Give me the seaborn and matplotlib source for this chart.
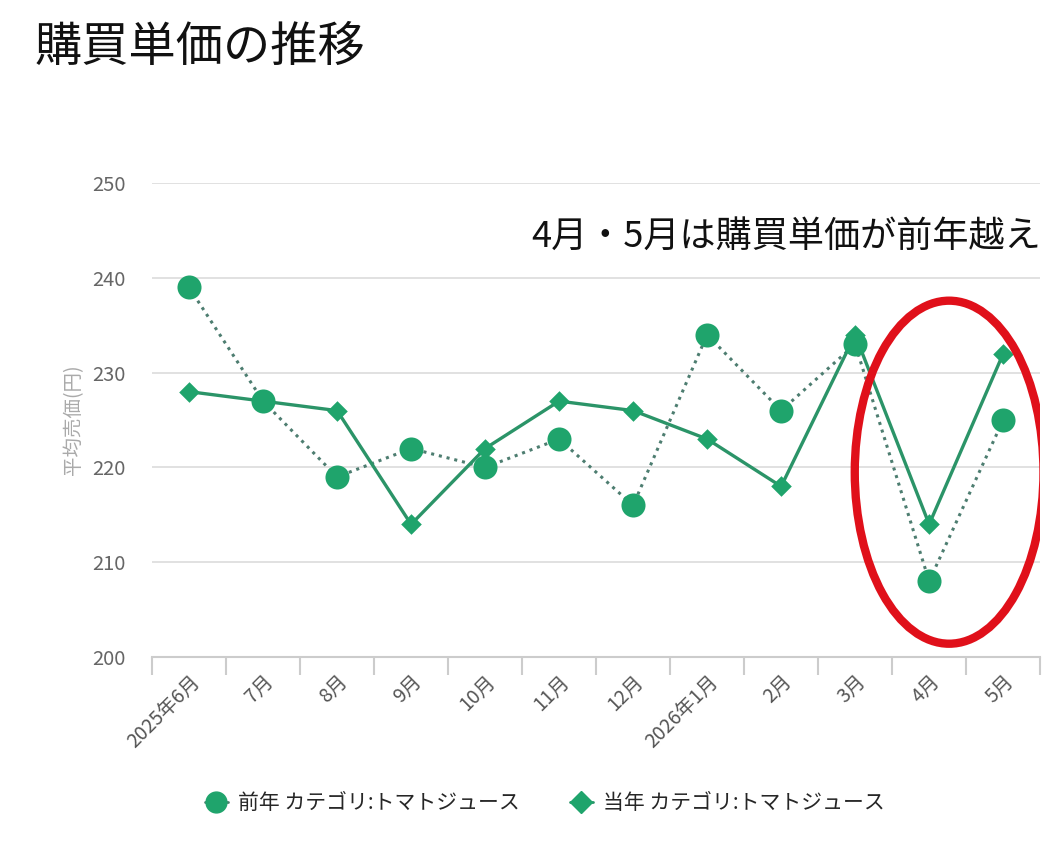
import numpy as np
import pandas as pd
import matplotlib
matplotlib.use('Agg')
import matplotlib.pyplot as plt
from matplotlib.lines import Line2D
from matplotlib.patches import Ellipse
import seaborn as sns

months = ['2025年6月', '7月', '8月', '9月', '10月', '11月', '12月',
          '2026年1月', '2月', '3月', '4月', '5月']
prev_year = [239, 227, 219, 222, 220, 223, 216, 234, 226, 233, 208, 225]
this_year = [228, 227, 226, 214, 222, 227, 226, 223, 218, 234, 214, 232]
prev_label = '前年 カテゴリ:トマトジュース'
this_label = '当年 カテゴリ:トマトジュース'

sns.set_theme(style='white')
plt.rcParams['font.family'] = ['Noto Sans CJK JP', 'DejaVu Sans']

pos = np.arange(len(months))
df = pd.DataFrame({'pos': pos, 'prev': prev_year, 'this': this_year})

mark_col = '#1fa46c'
solid_col = '#2b9468'
dot_col = '#4d7d70'

fig = plt.figure(figsize=(10.56, 8.56), dpi=100)
ax = fig.add_axes([0.144, 0.2325, 0.841, 0.5535])

sns.lineplot(data=df, x='pos', y='prev', ax=ax, color=dot_col, linestyle=(0, (1, 1.6)),
             linewidth=2.2, zorder=2)
sns.lineplot(data=df, x='pos', y='this', ax=ax, color=solid_col, linewidth=2.4, zorder=2)
sns.scatterplot(data=df, x='pos', y='prev', ax=ax, color=mark_col, marker='o', s=300,
                edgecolor=mark_col, linewidth=0, zorder=3)
sns.scatterplot(data=df, x='pos', y='this', ax=ax, color=mark_col, marker='D', s=110,
                edgecolor=mark_col, linewidth=0, zorder=3)

ax.set_xlim(-0.5, len(months) - 0.5)
ax.set_ylim(200, 250)
ax.set_yticks([200, 210, 220, 230, 240, 250])
ax.yaxis.grid(True, color='#dcdcdc', linewidth=1.2)
ax.set_axisbelow(True)
for s in ['top', 'right', 'left']:
    ax.spines[s].set_visible(False)
ax.spines['bottom'].set_color('#cccccc')
ax.spines['bottom'].set_linewidth(1.5)

ax.set_xticks(pos)
ax.set_xticklabels(months, rotation=45, ha='right', rotation_mode='anchor',
                   fontsize=14, color='#555555')
ax.set_xticks(np.arange(-0.5, len(months)), minor=True)
ax.tick_params(axis='x', which='major', length=0, pad=10)
ax.tick_params(axis='x', which='minor', length=13, width=1.5, color='#cccccc', bottom=True)
ax.tick_params(axis='y', length=0, labelsize=14.5, labelcolor='#666666', pad=19)
ax.set_xlabel('')
ax.set_ylabel('平均売価(円)', fontsize=14, color='#aaaaaa', labelpad=6)

ax.add_patch(Ellipse((10.27, 219.5), width=2.55, height=36.2, fill=False,
                     edgecolor='#e0101a', linewidth=6, zorder=4))

fig.text(0.033, 0.944, '購買単価の推移', fontsize=34, color='#111111', va='center')
fig.text(0.986, 0.723, '4月・5月は購買単価が前年越え', fontsize=26, color='#111111',
         ha='right', va='center')

handles = [
    Line2D([0], [0], color=dot_col, linewidth=2, marker='o', markersize=15,
           markerfacecolor=mark_col, markeredgecolor=mark_col),
    Line2D([0], [0], color=solid_col, linewidth=2, marker='D', markersize=11,
           markerfacecolor=mark_col, markeredgecolor=mark_col),
]
fig.legend(handles, [prev_label, this_label], loc='center', bbox_to_anchor=(0.516, 0.062),
           ncol=2, frameon=False, fontsize=15, handlelength=1.1, columnspacing=2.4,
           handletextpad=0.5)

fig.savefig('out.png', dpi=100)
